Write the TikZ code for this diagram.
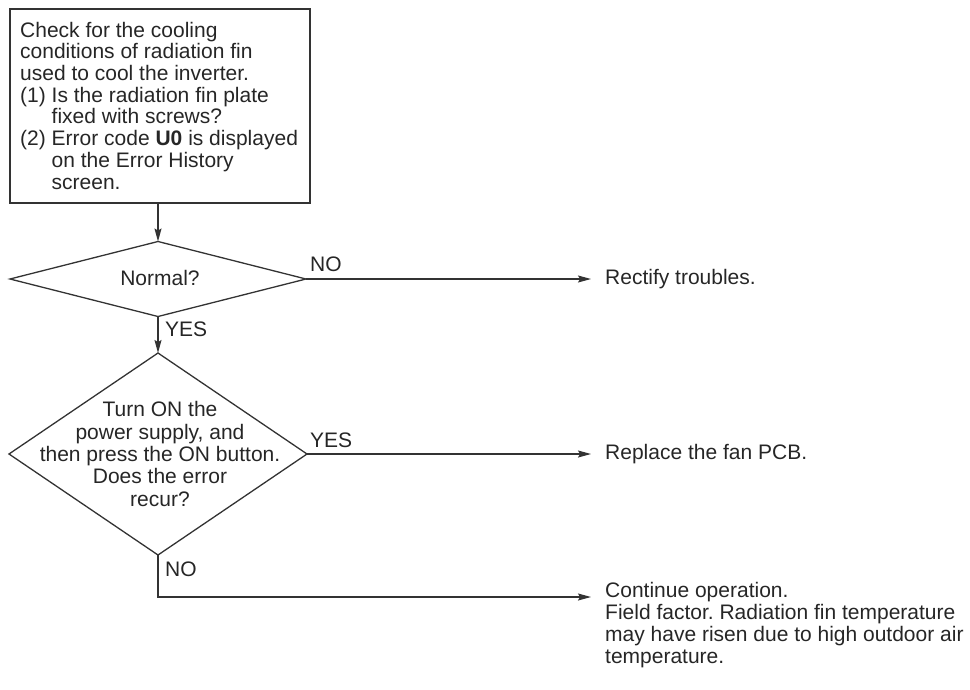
\documentclass[tikz,border=0pt]{standalone}
\usepackage{fontspec}
\setmainfont{Liberation Sans}
\usetikzlibrary{shapes.geometric,arrows.meta}
\definecolor{ink}{HTML}{262626}
\definecolor{linec}{HTML}{333333}
\frenchspacing
\begin{document}
\begin{tikzpicture}[x=1pt,y=-1pt,
  every node/.style={text=ink, font=\fontsize{21}{21.7}\selectfont},
  conn/.style={draw=linec, line width=1.3pt, -{Stealth[length=13pt,width=7pt,inset=2pt]}},
  boxshape/.style={draw=linec, line width=1.3pt, rectangle, minimum width=300pt, minimum height=194pt, inner sep=0pt, outer sep=0pt},
  dia/.style={draw=linec, line width=1.3pt, diamond, inner sep=0pt, outer sep=0pt},
  lbl/.style={inner sep=0pt, anchor=base west},
  outtext/.style={inner xsep=14pt, inner ysep=0pt, anchor=base west},
]
\useasboundingbox (0,0) rectangle (970,689);

% start box
\node[boxshape] (box) at (160,106) {};
\node[lbl] (boxtext) at (20,37) {\begin{tabular}[t]{@{}l@{}}
Check for the cooling\\
conditions of radiation fin\\
used to cool the inverter.\\
(1) Is the radiation fin plate\\
\phantom{(1) }fixed with screws?\\
(2) Error code \textbf{U0} is displayed\\
\phantom{(2) }on the Error History\\
\phantom{(2) }screen.
\end{tabular}};

% decision 1
\node[dia, minimum width=296pt, minimum height=75pt] (d1) at (158,279) {};
\node[inner sep=0pt] (d1t) at (160,278) {Normal?};

% decision 2
\node[dia, minimum width=298pt, minimum height=202pt] (d2) at (158,454) {};
\node[inner sep=0pt, anchor=base] (d2t) at (160,416.7) {\fontsize{21}{22.4}\selectfont\begin{tabular}[t]{@{}c@{}}
Turn ON the\\
power supply, and\\
then press the ON button.\\
Does the error\\
recur?
\end{tabular}};

% outcomes
\node[outtext] (r1) at (591,284) {Rectify troubles.};
\node[outtext] (r2) at (591,459) {Replace the fan PCB.};
\node[outtext] (r3) at (591,597) {\fontsize{21}{22}\selectfont\begin{tabular}[t]{@{}l@{}}
Continue operation.\\
Field factor. Radiation fin temperature\\
may have risen due to high outdoor air\\
temperature.
\end{tabular}};

% connectors
\draw[conn] (box.south -| d1.north) -- (d1.north);
\draw[conn] (d1.south) -- (d2.north);
\draw[conn] (d1.east) -- (d1.east -| r1.west);
\draw[conn] (d2.east) -- (d2.east -| r2.west);
\draw[conn] (d2.south) |- (r3.base west);

% labels
\node[lbl] (l1) at (310,271.7) {NO};
\node[lbl] (l2) at (165,336.7) {YES};
\node[lbl] (l3) at (310,447) {YES};
\node[lbl] (l4) at (165,576) {NO};
\end{tikzpicture}
\end{document}
